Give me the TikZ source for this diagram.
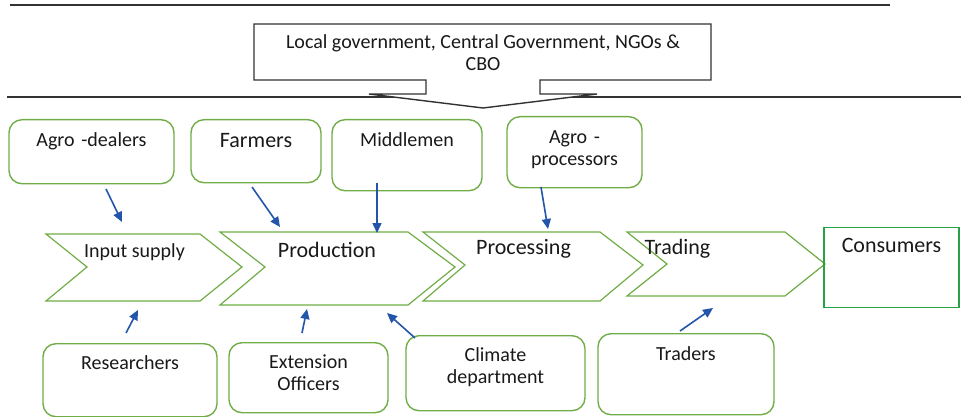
\documentclass[tikz,border=0pt]{standalone}
\usepackage{fontspec}
\setmainfont{Carlito}
\usetikzlibrary{arrows.meta}

\definecolor{boxgreen}{RGB}{112,173,71}
\definecolor{endgreen}{RGB}{40,160,70}
\definecolor{flowblue}{RGB}{35,85,170}
\definecolor{rulegray}{RGB}{50,50,50}
\definecolor{inkblack}{RGB}{25,25,25}

\tikzset{
  rule/.style={draw=rulegray, line width=1.6pt},
  txt/.style={inner sep=0pt, text=inkblack, font=\fontsize{20}{22}\selectfont},
  bigtxt/.style={txt, font=\fontsize{22}{24}\selectfont},
  gbox/.style={txt, draw=boxgreen, line width=1.4pt, rounded corners=13pt, align=center, anchor=north},
  stage/.style={draw=boxgreen, line width=1.2pt, line join=miter},
  flow/.style={draw=flowblue, line width=1.6pt, -{Triangle[length=10pt,width=9pt]}},
}

\begin{document}
\begin{tikzpicture}[x=1pt,y=1pt,yscale=-1]
\useasboundingbox (0,0) rectangle (961,417);

% rules
\draw[rule] (10,5) -- (890,5);
\draw[rule] (7,97) -- (961,97);

% callout
\draw[rule, line width=1.4pt, fill=white, line join=miter] (254,24) -- (711,24) -- (711,80) -- (540,80) -- (540,94) -- (597,94) -- (483,108) -- (369,94) -- (426,94) -- (426,80) -- (254,80) -- cycle;
\node[txt, align=center] (gov) at (483,52.5) {Local government, Central Government, NGOs \&\\CBO};

% chain stages
\draw[stage] (46,234) -- (200,234) -- (242,267) -- (200,301) -- (46,301) -- (87,267) -- cycle;
\draw[stage] (220,232) -- (408,232) -- (455,267) -- (408,305) -- (220,305) -- (265,267) -- cycle;
\draw[stage] (423,232) -- (600,232) -- (643,265) -- (600,301) -- (423,301) -- (465,265) -- cycle;
\draw[stage] (627,232) -- (785,232) -- (825,264) -- (785,296) -- (627,296) -- (667,264) -- cycle;
\node[txt] (input) at (134.5,252) {Input supply};
\node[bigtxt] (prod) at (327,250) {Production};
\node[bigtxt] (proc) at (523.5,249) {Processing};
\node[bigtxt] (trade) at (677.5,249) {Trading};
\node[bigtxt, draw=endgreen, line width=1.4pt, align=center, anchor=north, text width=135pt, text height=25.2pt, text depth=54.8pt] (cons) at (891.5,227) {Consumers};

% actors above
\node[gbox, text width=165pt, text height=26.6pt, text depth=37.4pt] (agrod) at (91.5,119) {Agro -dealers};
\node[gbox, bigtxt, text width=130pt, text height=28.2pt, text depth=34.8pt] (farm) at (256,119) {Farmers};
\node[gbox, text width=150pt, text height=26.6pt, text depth=44.4pt] (mid) at (407,119) {Middlemen};
\node[gbox, text width=135pt, text height=26.6pt, text depth=44.4pt] (agrop) at (574.5,116) {Agro -\\processors};

% actors below
\node[gbox, text width=174pt, text height=25.6pt, text depth=47.4pt] (res) at (130,343) {Researchers};
\node[gbox, text width=159pt, text height=25.6pt, text depth=44.4pt] (ext) at (308.5,342) {Extension\\Officers};
\node[gbox, text width=179pt, text height=25.6pt, text depth=49.4pt] (clim) at (495.5,335) {Climate\\department};
\node[gbox, text width=176pt, text height=26.6pt, text depth=54.4pt] (trad) at (686,333) {Traders};

% arrow ends
\coordinate (agrod-out) at (106,189);
\coordinate (input-in) at (122,222);
\coordinate (farm-out) at (252,187);
\coordinate (prod-in1) at (280,227);
\coordinate (mid-out) at (377,183);
\coordinate (prod-in2) at (377,233);
\coordinate (agrop-out) at (541,187);
\coordinate (proc-in) at (548,229);
\coordinate (res-out) at (126,333);
\coordinate (input-in2) at (138,310);
\coordinate (ext-out) at (302,333);
\coordinate (prod-in3) at (307,309);
\coordinate (clim-out) at (415,338);
\coordinate (prod-in4) at (387,313);
\coordinate (trad-out) at (680,331);
\coordinate (trade-in) at (713,308);

\draw[flow] (agrod-out) -- (input-in);
\draw[flow] (farm-out) -- (prod-in1);
\draw[flow] (mid-out) -- (prod-in2);
\draw[flow] (agrop-out) -- (proc-in);
\draw[flow] (res-out) -- (input-in2);
\draw[flow] (ext-out) -- (prod-in3);
\draw[flow] (clim-out) -- (prod-in4);
\draw[flow] (trad-out) -- (trade-in);

\end{tikzpicture}
\end{document}
